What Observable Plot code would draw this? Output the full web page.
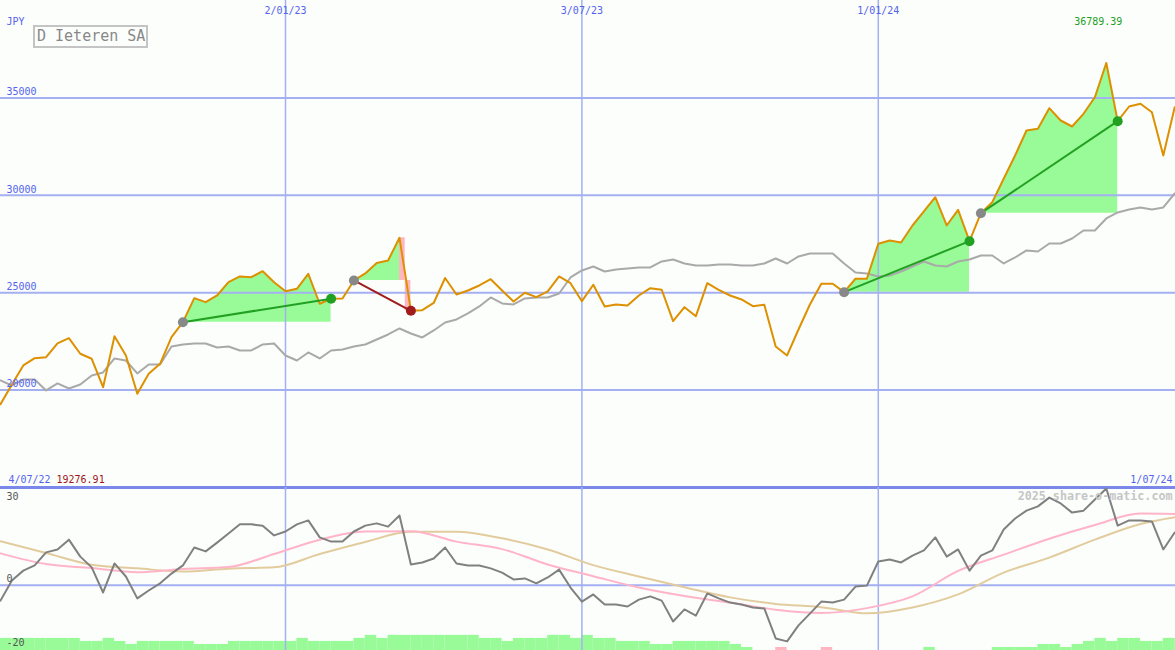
<!DOCTYPE html>
<html><head><meta charset="utf-8">
<script src="https://cdn.jsdelivr.net/npm/d3@7"></script>
<script src="https://cdn.jsdelivr.net/npm/@observablehq/plot@0.6"></script>
<style>
body{margin:0;background:#fcfefc;}
#chart{position:relative;width:1175px;height:650px;overflow:hidden;background:#fcfefc;font-family:"DejaVu Sans Mono",monospace;}
#topPanel{position:absolute;left:0;top:0;}
#bottomPanel{position:absolute;left:0;top:487px;}
#topPanel svg,#bottomPanel svg{display:block;}
#title{position:absolute;left:33px;top:25px;width:109px;height:19px;border:2px solid #c4c4c4;background:#fcfefc;color:#888;font-size:15px;line-height:19px;padding-left:2px;white-space:nowrap;}
</style></head>
<body>
<div id="chart"><div id="topPanel"></div><div id="bottomPanel"></div><div id="title">D Ieteren SA</div></div>
<script>
// ---- data ----
const startDate = "2022-07-11";           // first weekly point (Mondays)
const price = [19276.91,20289,21265,21640,21690,22394,22666,21865,21608,20150,
 22769,21778,19811,20838,21351,22717,23487,24719,24514,24857,
 25540,25833,25797,26105,25540,25078,25201,25971,24432,24688,
 24704,25628,25987,26526,26654,27819,24072,24103,24473,25756,
 24909,25114,25371,25694,25114,24549,24996,24770,25063,25833,
 25489,24565,25407,24293,24396,24344,24857,25232,25150,23538,
 24257,23795,25489,25150,24857,24652,24308,24380,22240,21778,
 23112,24396,25458,25458,25027,25715,25715,27511,27680,27578,
 28450,29169,29903,28450,29256,27645,29082,29647,30848,32044,
 33327,33414,34472,33840,33532,34184,35036,36789.39,33804,34559,
 34697,34266,32044,34523];
const movingAvg = [20495,20238,20546,20546,19981,20341,20084,20289,20751,20905,
 21624,21521,20854,21316,21316,22240,22342,22394,22394,22188,
 22240,22035,22035,22342,22394,21778,21521,21932,21624,22035,
 22086,22240,22342,22599,22856,23164,22907,22702,23061,23472,
 23626,23934,24293,24755,24447,24396,24704,24755,24755,24960,
 25782,26141,26346,26089,26192,26243,26295,26295,26603,26705,
 26500,26397,26397,26449,26449,26397,26397,26500,26757,26500,
 26860,27013,27013,27013,26500,26038,25987,25833,25884,26089,
 26346,26603,26397,26346,26603,26705,26911,26911,26500,26808,
 27168,27116,27527,27527,27784,28194,28194,28810,29118,29272,
 29375,29272,29375,30093];
const momentum = [-4.7,1.5,4.5,6.1,10.1,11.0,14.0,8.8,5.5,-2.2,
 6.7,2.7,-4.0,-1.6,0.6,3.6,6.1,11.6,10.4,13.1,
 15.9,18.7,18.7,18.3,15.3,16.5,18.7,19.9,14.7,13.4,
 13.4,16.5,18.3,19.0,18.0,21.4,6.4,7.0,8.2,11.6,
 6.7,6.1,6.1,5.2,3.9,1.8,2.1,0.6,2.4,4.8,
 -0.7,-5.0,-2.8,-5.9,-5.9,-6.5,-4.4,-3.4,-4.7,-11.1,
 -7.4,-9.3,-2.5,-4.0,-5.3,-5.9,-6.8,-7.1,-16.3,-17.2,
 -12.3,-8.7,-5.0,-5.3,-4.4,-0.4,-0.1,7.3,7.9,7.0,
 9.1,10.7,14.7,8.8,11.0,4.5,9.1,10.7,17.1,20.5,
 22.9,24.2,26.9,25.1,22.3,22.9,26.3,29.7,18.3,19.9,
 19.9,19.6,11.0,16.2];
const smoothIdx = [0,4,8,12,16,20,24,28,32,36,40,44,48,52,56,60,64,68,72,76,80,84,88,92,96,100,103];
const pinkAvg = [9.8,6.5,5.3,4.0,5.0,5.6,9.6,14.0,16.5,16.6,13.4,11.1,6.4,2.8,-0.7,-3.3,-5.3,-7.5,-8.5,-7.0,-3.4,4.4,9.4,14.3,18.5,22.0,21.9];
const tanAvg = [13.5,9.9,6.3,5.2,4.2,5.1,5.5,9.6,13.3,16.4,16.4,14.4,11.0,6.2,2.7,-0.6,-3.7,-5.7,-6.7,-8.6,-6.8,-2.8,3.9,8.5,14.0,18.8,20.9];
const barLevel = [4,4,4,4,4,4,4,3,3,4, 3,2,3,3,3,3,3,2,2,2, 3,3,3,3,3,3,4,3,3,3,
 3,4,5,4,5,5,5,5,5,5, 5,5,4,4,3,4,4,4,5,5, 4,5,4,4,3,3,3,2,2,3,
 3,3,3,3,2,1,0,0,-1,0, 0,0,-1,0,0,0,0,0,0,0, 0,1,0,0,0,0,0,1,1,1,
 1,2,2,1,2,3,4,3,4,4, 3,3,4,4];
const sigStart = [16, 31, 74, 86];
const sigEnd = [29, 36, 85, 98];
const yTicks = [20000, 25000, 30000, 35000];
const xTickDates = ["2023-01-02", "2023-07-03", "2024-01-01"];
const xTickLabels = ["2/01/23", "3/07/23", "1/01/24"];
const currency = "JPY";
const firstLabel = "4/07/22", lastLabel = "1/07/24";
const minLabel = "19276.91", maxLabel = "36789.39";
const watermark = "2025 share-o-matic.com";

// ---- build ----
const d0 = new Date(startDate + "T00:00:00Z");
const dates = price.map((_, i) => d3.utcDay.offset(d0, 7 * i));
const rows = price.map((p, i) => ({date: dates[i], price: p, ma: movingAvg[i], mom: momentum[i], bar: barLevel[i], i}));
const smooth = smoothIdx.map((k, j) => ({date: dates[k], pink: pinkAvg[j], tan: tanAvg[j]}));
const ticks = xTickDates.map((d, j) => ({date: new Date(d + "T00:00:00Z"), label: xTickLabels[j]}));

const areaRows = [], pinkRects = [], sigs = [];
sigStart.forEach((s, j) => {
  const e = sigEnd[j], base = price[s];
  const win = price[e] >= base;
  let k = e;
  if (!win) { k = s; while (k + 1 < e && price[k + 1] >= base) k++; }
  for (let i = s; i <= k; i++) areaRows.push({sig: j, date: dates[i], base, price: price[i]});
  if (!win) {
    const mid = new Date((+dates[k] + +dates[k + 1]) / 2);
    pinkRects.push({x1: dates[k], x2: mid, y1: base, y2: price[k]});
    pinkRects.push({x1: mid, x2: dates[e], y1: price[e], y2: base});
  }
  sigs.push({x1: dates[s], y1: base, x2: dates[e], y2: price[e], win});
});
const maxI = price.indexOf(d3.max(price));

const blue = "#5563ee", grid = "#a4b0f2";
const xScale = {type: "utc", domain: [dates[0], dates[dates.length - 1]], range: [0, 1174.2], axis: null};
const font = {fontFamily: "DejaVu Sans Mono, monospace", fontSize: "10px", background: "transparent", overflow: "visible"};

const topChart = Plot.plot({
  width: 1175, height: 490, margin: 0,
  x: xScale,
  y: {domain: [15000, 40000], range: [487, 0], axis: null},
  style: font,
  marks: [
    Plot.areaY(areaRows, {x: "date", y1: "base", y2: "price", z: "sig", fill: "#98fb98"}),
    Plot.rect(pinkRects, {x1: "x1", x2: "x2", y1: "y1", y2: "y2", fill: "#ffb6c1"}),
    Plot.ruleY(yTicks, {stroke: grid, strokeWidth: 2}),
    Plot.ruleX(ticks, {x: "date", stroke: grid, strokeWidth: 1.5}),
    Plot.ruleY([15000], {stroke: "#7a88ea", strokeWidth: 3}),
    Plot.lineY(rows, {x: "date", y: "ma", stroke: "#a9a9a9", strokeWidth: 2}),
    Plot.lineY(rows, {x: "date", y: "price", stroke: "#dd9000", strokeWidth: 2}),
    Plot.link(sigs, {x1: "x1", y1: "y1", x2: "x2", y2: "y2", stroke: d => d.win ? "#22a022" : "#a01c1c", strokeWidth: 2}),
    Plot.dot(sigs, {x: "x1", y: "y1", r: 5, fill: "#888888"}),
    Plot.dot(sigs, {x: "x2", y: "y2", r: 5, fill: d => d.win ? "#22a022" : "#a01c1c"}),
    Plot.text(yTicks, {y: d => d, text: d => String(d), frameAnchor: "left", textAnchor: "start", lineAnchor: "middle", dx: 6, dy: -6, fill: blue}),
    Plot.text(ticks, {x: "date", text: "label", frameAnchor: "top", lineAnchor: "middle", dy: 10, fill: blue}),
    Plot.text([currency], {text: d => d, frameAnchor: "top-left", lineAnchor: "middle", dx: 6, dy: 21, fill: blue}),
    Plot.text([rows[maxI]], {x: "date", text: () => maxLabel, frameAnchor: "top", lineAnchor: "middle", dx: -8, dy: 21, fill: "#22a022"}),
    Plot.text([firstLabel], {text: d => d, frameAnchor: "bottom-left", lineAnchor: "middle", textAnchor: "start", dx: 8, dy: -11, fill: blue}),
    Plot.text([minLabel], {text: d => d, frameAnchor: "bottom-left", lineAnchor: "middle", textAnchor: "start", dx: 56, dy: -11, fill: "#a01818"}),
    Plot.text([lastLabel], {text: d => d, frameAnchor: "bottom-right", lineAnchor: "middle", textAnchor: "end", dx: -3, dy: -11, fill: blue})
  ]
});
document.getElementById("topPanel").append(topChart);

const bottomChart = Plot.plot({
  width: 1175, height: 163, margin: 0,
  x: xScale,
  y: {domain: [-20, 30], range: [163, 0], axis: null},
  style: font,
  marks: [
    Plot.rect(rows.filter(d => d.bar !== 0), {x1: "date", x2: d => d3.utcDay.offset(d.date, 7), y1: -20, y2: d => -20 + Math.abs(d.bar) * 0.93, fill: d => d.bar > 0 ? "#98fb98" : "#ffb6c1"}),
    Plot.ruleY([0], {stroke: grid, strokeWidth: 2}),
    Plot.ruleX(ticks, {x: "date", stroke: grid, strokeWidth: 1.5}),
    Plot.lineY(smooth, {x: "date", y: "tan", stroke: "#e2cc9e", strokeWidth: 2, curve: "monotone-x"}),
    Plot.lineY(smooth, {x: "date", y: "pink", stroke: "#ffb4c8", strokeWidth: 2, curve: "monotone-x"}),
    Plot.lineY(rows, {x: "date", y: "mom", stroke: "#808080", strokeWidth: 2}),
    Plot.text(["30"], {text: d => d, frameAnchor: "top-left", lineAnchor: "middle", dx: 6, dy: 9, fill: "#555"}),
    Plot.text([0], {y: d => d, text: d => String(d), frameAnchor: "left", textAnchor: "start", lineAnchor: "middle", dx: 6, dy: -7, fill: "#555"}),
    Plot.text(["-20"], {text: d => d, frameAnchor: "bottom-left", lineAnchor: "middle", dx: 6, dy: -8, fill: "#555"}),
    Plot.text([watermark], {text: d => d, frameAnchor: "top-right", lineAnchor: "middle", dx: -3, dy: 9, fill: "#c6c6c6", fontWeight: "bold", fontSize: 11.7})
  ]
});
document.getElementById("bottomPanel").append(bottomChart);
</script>
</body></html>
